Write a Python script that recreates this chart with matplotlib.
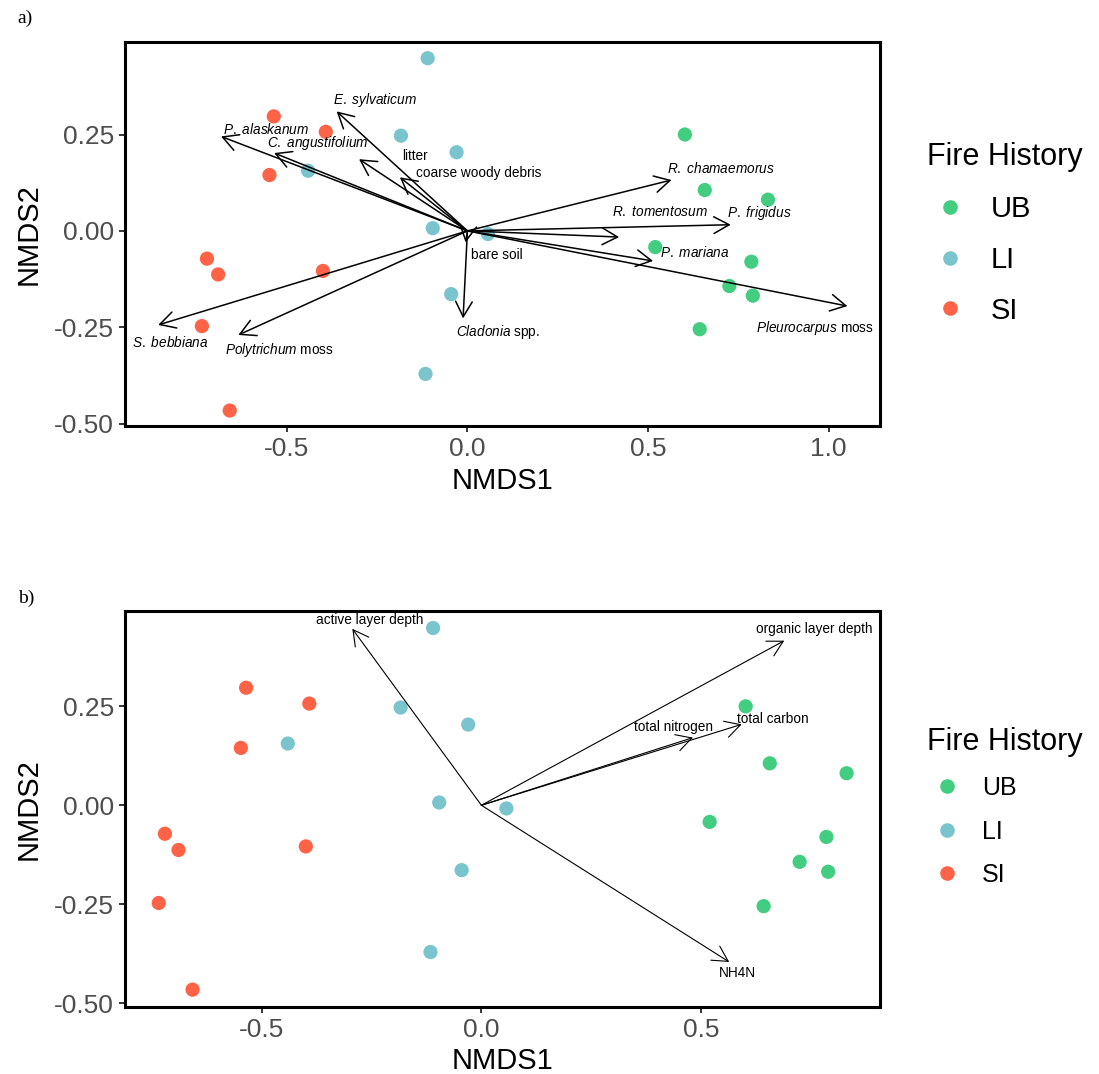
import matplotlib
matplotlib.use('Agg')
import matplotlib.pyplot as plt
from matplotlib import font_manager
from matplotlib.lines import Line2D

# ---- data: NMDS site scores (same ordination in both panels) ----
ub_x = [0.602, 0.657, 0.832, 0.520, 0.786, 0.725, 0.790, 0.643]
ub_y = [0.250, 0.106, 0.081, -0.042, -0.080, -0.143, -0.168, -0.255]
li_x = [-0.110, -0.184, -0.030, -0.441, -0.096, 0.057, -0.045, -0.116]
li_y = [0.448, 0.247, 0.204, 0.156, 0.007, -0.008, -0.164, -0.371]
si_x = [-0.536, -0.392, -0.548, -0.721, -0.690, -0.400, -0.735, -0.658]
si_y = [0.297, 0.257, 0.145, -0.072, -0.113, -0.104, -0.247, -0.466]

groups = ['UB', 'LI', 'SI']
group_colors = ['#43CD80', '#7AC5CD', '#FF6347']

# species vectors (panel a)
species = [r'$\mathit{P.\ alaskanum}$', r'$\mathit{C.\ angustifolium}$', r'$\mathit{E.\ sylvaticum}$',
           'litter', 'coarse woody debris', r'$\mathit{R.\ chamaemorus}$',
           r'$\mathit{R.\ tomentosum}$', r'$\mathit{P.\ frigidus}$', r'$\mathit{P.\ mariana}$',
           r'$\mathit{Pleurocarpus}$ moss', 'bare soil', r'$\mathit{Cladonia}$ spp.',
           r'$\mathit{S.\ bebbiana}$', r'$\mathit{Polytrichum}$ moss']
sp_x = [-0.682, -0.535, -0.362, -0.300, -0.187, 0.565, 0.420, 0.729, 0.514, 1.052, -0.005, -0.012, -0.856, -0.634]
sp_y = [0.245, 0.202, 0.310, 0.186, 0.139, 0.132, -0.016, 0.016, -0.078, -0.195, -0.030, -0.227, -0.244, -0.270]
sp_lab_x = [-0.558, -0.415, -0.256, -0.145, 0.032, 0.701, 0.533, 0.807, 0.630, 0.963, 0.082, 0.084, -0.823, -0.520]
sp_lab_y = [0.264, 0.229, 0.340, 0.193, 0.150, 0.163, 0.048, 0.046, -0.056, -0.253, -0.062, -0.261, -0.290, -0.309]

# environmental vectors (panel b)
env = ['active layer depth', 'organic layer depth', 'total nitrogen', 'total carbon', 'NH4N']
env_x = [-0.294, 0.690, 0.482, 0.593, 0.5645]
env_y = [0.446, 0.416, 0.171, 0.2045, -0.396]
env_lab_x = [-0.255, 0.759, 0.437, 0.665, 0.584]
env_lab_y = [0.467, 0.445, 0.199, 0.219, -0.423]

yticks = [-0.50, -0.25, 0.00, 0.25]
ytick_labels = ['-0.50', '-0.25', '0.00', '0.25']
xticks_a = [-0.5, 0.0, 0.5, 1.0]
xtick_labels_a = ['-0.5', '0.0', '0.5', '1.0']
xticks_b = [-0.5, 0.0, 0.5]
xtick_labels_b = ['-0.5', '0.0', '0.5']

# ---- fonts ----
names = {f.name for f in font_manager.fontManager.ttflist}
if 'Liberation Sans Narrow' in names:
    vec_font, vec_size = 'Liberation Sans Narrow', 12
else:
    vec_font, vec_size = 'Liberation Sans', 9.8
plt.rcParams['font.family'] = ['Liberation Sans', 'DejaVu Sans']
plt.rcParams['mathtext.fontset'] = 'custom'
plt.rcParams['mathtext.rm'] = vec_font
plt.rcParams['mathtext.it'] = vec_font + ':italic'
plt.rcParams['axes.unicode_minus'] = False

fig = plt.figure(figsize=(10.99, 10.74), dpi=100)
ax_a = fig.add_axes([0.1137, 0.6034, 0.687, 0.3575])
ax_b = fig.add_axes([0.1137, 0.0627, 0.687, 0.3684])


def draw_sites(ax):
    for gx, gy, c in zip([ub_x, li_x, si_x], [ub_y, li_y, si_y], group_colors):
        ax.scatter(gx, gy, s=105, color=c, edgecolors='none', zorder=2)


def draw_vectors(ax, vx, vy, labels, lx, ly, lw):
    for x, y, lab, tx, ty in zip(vx, vy, labels, lx, ly):
        ax.annotate('', xy=(x, y), xytext=(0, 0),
                    arrowprops=dict(arrowstyle='->,head_length=0.55,head_width=0.3',
                                    mutation_scale=20, lw=lw, color='black',
                                    shrinkA=0, shrinkB=0), zorder=3)
        ax.text(tx, ty, lab, ha='center', va='center', fontsize=vec_size,
                family=vec_font, zorder=4)


def style_axes(ax, xticks, xlabels, xlim, ylim):
    ax.set_xlim(*xlim)
    ax.set_ylim(*ylim)
    ax.set_xticks(xticks)
    ax.set_xticklabels(xlabels)
    ax.set_yticks(yticks)
    ax.set_yticklabels(ytick_labels)
    ax.tick_params(labelsize=19, labelcolor='#4D4D4D', length=4, width=1.1, pad=4)
    for s in ax.spines.values():
        s.set_linewidth(2.2)
    ax.set_xlabel('NMDS1', fontsize=21, labelpad=4)
    ax.set_ylabel('NMDS2', fontsize=21, labelpad=8)


def add_legend(ax, anchor, label_size, spacing):
    handles = [Line2D([], [], marker='o', ls='none', color=c, markersize=10.5,
                      markeredgewidth=0) for c in group_colors]
    leg = ax.legend(handles, groups, title='Fire History', loc='upper left',
                    bbox_to_anchor=anchor, bbox_transform=fig.transFigure,
                    frameon=False, fontsize=label_size, title_fontsize=22,
                    alignment='left', borderpad=0, handlelength=1.6,
                    handletextpad=0.6, labelspacing=spacing)
    return leg


draw_sites(ax_a)
draw_vectors(ax_a, sp_x, sp_y, species, sp_lab_x, sp_lab_y, 1.1)
style_axes(ax_a, xticks_a, xtick_labels_a, (-0.948, 1.142), (-0.506, 0.490))
add_legend(ax_a, (0.830, 0.881), 21, 0.78)

draw_sites(ax_b)
draw_vectors(ax_b, env_x, env_y, env, env_lab_x, env_lab_y, 0.8)
style_axes(ax_b, xticks_b, xtick_labels_b, (-0.812, 0.908), (-0.509, 0.491))
add_legend(ax_b, (0.832, 0.335), 18, 0.78)

fig.text(0.016, 1 - 18 / 1074, 'a)', family='Liberation Serif', fontsize=14, va='center')
fig.text(0.016, 1 - 598 / 1074, 'b)', family='Liberation Serif', fontsize=14, va='center')

fig.savefig('out.png', dpi=100)
